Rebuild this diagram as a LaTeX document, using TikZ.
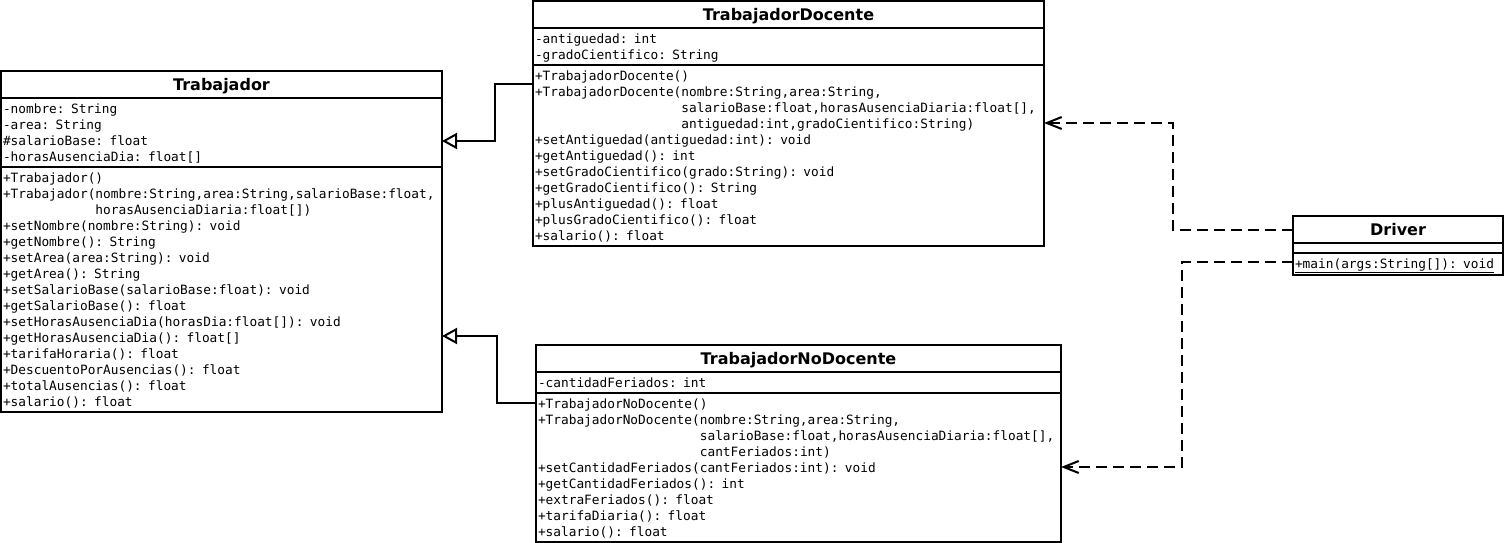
\documentclass[tikz,border=0pt]{standalone}
\usepackage{fontspec}
\setmainfont{DejaVu Sans}
\setmonofont{DejaVu Sans Mono}
\usepackage{tikz}
\usetikzlibrary{shapes.multipart,arrows.meta}

\newcommand\membsize{\fontsize{12.8pt}{16pt}\selectfont}
\newcommand\classtitle[1]{\makebox[\linewidth]{\fontsize{16pt}{19pt}\rmfamily\bfseries\selectfont #1\rule[-5.5pt]{0pt}{22.5pt}}}
\newcommand\topln{\rule{0pt}{13.2pt}}
\newcommand\botln{\rule[-2.8pt]{0pt}{2.8pt}}

\tikzset{
  umlclass/.style={rectangle split, rectangle split parts=3, rectangle split draw splits=false,
    draw, line width=2pt, inner xsep=2pt, inner ysep=1.4pt, outer sep=0pt,
    anchor=north west, align=left, font=\membsize\ttfamily},
  splitline/.style={line width=2pt},
  genline/.style={line width=2pt, -{Triangle[open, length=15pt, width=16pt]}},
  depline/.style={line width=2pt, dash pattern=on 11pt off 6pt,
    -{Straight Barb[length=15pt, width=12pt]}}
}

\begin{document}
\begin{tikzpicture}[x=1pt,y=-1pt]
        \useasboundingbox (0,0) rectangle (1506,543);

        % Draw classes
        \node[umlclass, text width=437pt] (trab) at (1,71) {\classtitle{Trabajador}
          \nodepart{two}\topln-nombre: String\\
          -area: String\\
          \#salarioBase: float\\
          -horasAusenciaDia: float[]\botln
          \nodepart{three}\topln+Trabajador()\\
          +Trabajador(nombre:String,area:String,salarioBase:float,\\
          \phantom{+Trabajador(}horasAusenciaDiaria:float[])\\
          +setNombre(nombre:String): void\\
          +getNombre(): String\\
          +setArea(area:String): void\\
          +getArea(): String\\
          +setSalarioBase(salarioBase:float): void\\
          +getSalarioBase(): float\\
          +setHorasAusenciaDia(horasDia:float[]): void\\
          +getHorasAusenciaDia(): float[]\\
          +tarifaHoraria(): float\\
          +DescuentoPorAusencias(): float\\
          +totalAusencias(): float\\
          +salario(): float\botln};

        \node[umlclass, text width=507pt] (doc) at (533,1) {\classtitle{TrabajadorDocente}
          \nodepart{two}\topln-antiguedad: int\\
          -gradoCientifico: String\botln
          \nodepart{three}\topln+TrabajadorDocente()\\
          +TrabajadorDocente(nombre:String,area:String,\\
          \phantom{+TrabajadorDocente(}salarioBase:float,horasAusenciaDiaria:float[],\\
          \phantom{+TrabajadorDocente(}antiguedad:int,gradoCientifico:String)\\
          +setAntiguedad(antiguedad:int): void\\
          +getAntiguedad(): int\\
          +setGradoCientifico(grado:String): void\\
          +getGradoCientifico(): String\\
          +plusAntiguedad(): float\\
          +plusGradoCientifico(): float\\
          +salario(): float\botln};

        \node[umlclass, text width=521pt] (nodoc) at (536,345) {\classtitle{TrabajadorNoDocente}
          \nodepart{two}\topln-cantidadFeriados: int\botln
          \nodepart{three}\topln+TrabajadorNoDocente()\\
          +TrabajadorNoDocente(nombre:String,area:String,\\
          \phantom{+TrabajadorNoDocente(}salarioBase:float,horasAusenciaDiaria:float[],\\
          \phantom{+TrabajadorNoDocente(}cantFeriados:int)\\
          +setCantidadFeriados(cantFeriados:int): void\\
          +getCantidadFeriados(): int\\
          +extraFeriados(): float\\
          +tarifaDiaria(): float\\
          +salario(): float\botln};

        \node[umlclass, text width=206pt] (drv) at (1293,216) {\classtitle{Driver}
          \nodepart{two}\rule{0pt}{4.5pt}
          \nodepart{three}\topln\underline{+main(args:String[]): void}\botln};

        % Draw compartment lines
        \foreach \c in {trab,doc,nodoc,drv} {
          \draw[splitline] (\c.text split west) -- (\c.text split east);
          \draw[splitline] (\c.two split west) -- (\c.two split east);
        }

        % Draw relations
        \draw[genline] ([yshift=-83pt]doc.north west) -- ++(-38,0) |- ([yshift=-70pt]trab.north east);
        \draw[genline] ([yshift=-58pt]nodoc.north west) -- ++(-39,0) |- ([yshift=-265pt]trab.north east);
        \draw[depline] ([yshift=-14pt]drv.north west) -- ++(-120,0) |- ([yshift=-122pt]doc.north east);
        \draw[depline] ([yshift=-46pt]drv.north west) -- ++(-111,0) |- ([yshift=-122pt]nodoc.north east);
      \end{tikzpicture}
\end{document}
